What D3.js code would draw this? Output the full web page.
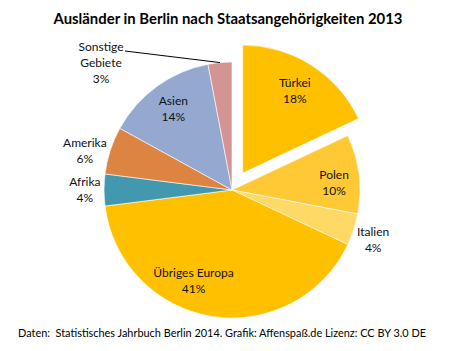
<!DOCTYPE html>
<html>
<head>
<meta charset="utf-8">
<script src="https://cdn.jsdelivr.net/npm/d3@7"></script>
<style>
  body { margin: 0; background: #fff; }
  svg { display: block; font-family: Lato, "Open Sans", sans-serif; }
</style>
</head>
<body>
<div id="pie_chart"></div>
<script>
// Data
const regions = ["Türkei", "Polen", "Italien", "Übriges Europa", "Afrika", "Amerika", "Asien", "Sonstige Gebiete"];
const shares = [18, 10, 4, 41, 4, 6, 14, 3];
const colors = ["#FFC000", "#FFC935", "#FFD966", "#FFC000", "#4198AF", "#DD8442", "#95A9D0", "#D59494"];
const exploded = ["Türkei"];

const titleText = "Ausländer in Berlin nach Staatsangehörigkeiten 2013";
const footerText = "Daten:  Statistisches Jahrbuch Berlin 2014. Grafik: Affenspaß.de Lizenz: CC BY 3.0 DE";

// label placement: radius as a fraction of the pie radius, angle nudge in degrees
const labelLayout = {
    "Türkei": { r: 0.76, nudge: 0 },
    "Polen": { r: 0.8, nudge: 3 },
    "Italien": { r: 1.17, nudge: 1.5 },
    "Übriges Europa": { r: 0.77, nudge: 14 },
    "Afrika": { r: 1.15, nudge: 0 },
    "Amerika": { r: 1.19, nudge: -3 },
    "Asien": { r: 0.78, nudge: 0 },
    "Sonstige Gebiete": { r: 1.0, nudge: 0, outside: true }
};

const width = 461, height = 351;
const cx = 232, cy = 190, radius = 128, explodeBy = 20;

const svg = d3.select("#pie_chart")
    .append("svg")
    .attr("width", width)
    .attr("height", height);

// Title
svg.append("text")
    .attr("x", 228)
    .attr("y", 24)
    .attr("text-anchor", "middle")
    .style("font-size", "14.5px")
    .style("font-weight", "bold")
    .attr("textLength", 349)
    .attr("lengthAdjust", "spacingAndGlyphs")
    .text(titleText);

const dataArray = regions.map((name, i) => ({ name: name, value: shares[i], color: colors[i] }));

const pie = d3.pie()
    .sort(null)
    .value(d => d.value);

const arc = d3.arc()
    .innerRadius(0)
    .outerRadius(radius);

const arcs = pie(dataArray);

const chart = svg.append("g")
    .attr("transform", `translate(${cx}, ${cy})`);

// offset for the pulled-out slice
function shift(d) {
    if (exploded.indexOf(d.data.name) < 0) return [0, 0];
    const a = (d.startAngle + d.endAngle) / 2;
    return [Math.sin(a) * explodeBy, -Math.cos(a) * explodeBy];
}

chart.selectAll("path")
    .data(arcs)
    .enter()
    .append("path")
    .attr("d", arc)
    .attr("transform", d => `translate(${shift(d)})`)
    .attr("fill", d => d.data.color)
    .attr("stroke", "#fff")
    .attr("stroke-width", 0.6);

// Labels
const labels = chart.selectAll("g.label")
    .data(arcs)
    .enter()
    .append("g")
    .attr("class", "label");

labels.each(function (d) {
    const g = d3.select(this);
    const lay = labelLayout[d.data.name];
    const s = shift(d);
    const a = (d.startAngle + d.endAngle) / 2 + lay.nudge * Math.PI / 180;
    let x = s[0] + Math.sin(a) * radius * lay.r;
    let y = s[1] - Math.cos(a) * radius * lay.r;
    let lines = [d.data.name, d.data.value + "%"];

    if (lay.outside) {
        // leader line from slice edge to a label on the upper left
        lines = d.data.name.split(" ").concat([d.data.value + "%"]);
        x = -131;
        y = -127;
        chart.append("line")
            .attr("x1", Math.sin(a) * radius)
            .attr("y1", -Math.cos(a) * radius)
            .attr("x2", x + 24)
            .attr("y2", y - 12)
            .attr("stroke", "#000")
            .attr("stroke-width", 1);
    }

    const lineH = 16;
    const top = y - (lines.length - 1) * lineH / 2;
    lines.forEach((t, i) => {
        g.append("text")
            .attr("x", x)
            .attr("y", top + i * lineH)
            .attr("dy", "0.35em")
            .attr("text-anchor", "middle")
            .style("font-size", "12px")
            .style("fill", "#111")
            .text(t);
    });
});

// Footer
svg.append("text")
    .attr("x", 18)
    .attr("y", 337)
    .style("font-size", "11px")
    .style("white-space", "pre")
    .attr("textLength", 408)
    .attr("lengthAdjust", "spacingAndGlyphs")
    .text(footerText);
</script>
</body>
</html>
